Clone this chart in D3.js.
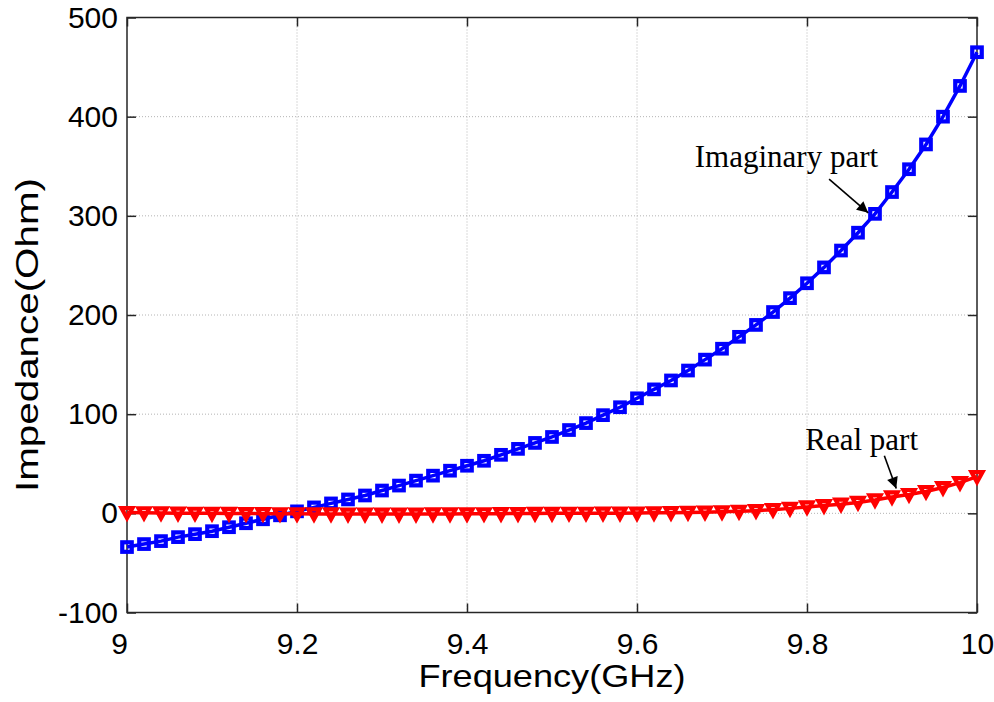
<!DOCTYPE html>
<html>
<head>
<meta charset="utf-8">
<script src="https://cdn.jsdelivr.net/npm/d3@7"></script>
<style>
  body { margin: 0; background: #fff; }
  text { font-family: "Liberation Sans", Arial, sans-serif; }
</style>
</head>
<body>
<script>
// frequency samples (GHz)
var freq = [9.00, 9.02, 9.04, 9.06, 9.08, 9.10, 9.12, 9.14, 9.16, 9.18,
            9.20, 9.22, 9.24, 9.26, 9.28, 9.30, 9.32, 9.34, 9.36, 9.38,
            9.40, 9.42, 9.44, 9.46, 9.48, 9.50, 9.52, 9.54, 9.56, 9.58,
            9.60, 9.62, 9.64, 9.66, 9.68, 9.70, 9.72, 9.74, 9.76, 9.78,
            9.80, 9.82, 9.84, 9.86, 9.88, 9.90, 9.92, 9.94, 9.96, 9.98, 10.00];

// imaginary part (Ohm)
var imag_part = [-34, -31, -28, -24, -21, -18, -14, -10, -6, -2,
                 2, 6, 10, 14, 18, 23, 28, 33, 38, 43,
                 48, 53, 59, 65, 71, 77, 84, 91, 99, 107,
                 116, 125, 134, 144, 155, 166, 178, 190, 203, 217,
                 232, 248, 265, 283, 302, 324, 347, 372, 400, 431, 465];

// real part (Ohm)
var real_part = [0.8, 0.6, 0.4, 0.2, 0.1, 0, -0.1, -0.2, -0.3, -0.4,
                 -0.5, -0.6, -0.6, -0.7, -0.7, -0.7, -0.7, -0.7, -0.6, -0.6,
                 -0.5, -0.4, -0.3, -0.2, -0.1, 0, 0.1, 0.1, 0.2, 0.2,
                 0.3, 0.5, 0.7, 0.9, 1.2, 1.5, 2.0, 2.7, 3.7, 5.0,
                 6.5, 7.8, 9.2, 11, 13.5, 16.5, 19, 22, 26, 31, 37];

var x_ticks = [9, 9.2, 9.4, 9.6, 9.8, 10];
var y_ticks = [-100, 0, 100, 200, 300, 400, 500];

// text annotations with arrows, in data coordinates
var notes = [
  {label: 'Imaginary part', tx: 9.668, ty: 349, x1: 9.826, y1: 337, x2: 9.872, y2: 303},
  {label: 'Real part',      tx: 9.798, ty: 63.5, x1: 9.891, y1: 58, x2: 9.905, y2: 25}
];

var x_scale, y_scale;

function plot_it()  {
  var width = 994, height = 702;
  var left = 127, right = 977, top = 17.5, bottom = 612.5;

  var svg = d3.select('body').append('svg').attr('width', width).attr('height', height);

  x_scale = d3.scaleLinear().domain([9, 10]).range([left, right]);
  y_scale = d3.scaleLinear().domain([-100, 500]).range([bottom, top]);

  // dotted grid
  var grid = svg.append('g');
  grid.selectAll('.gx').data(x_ticks.slice(1, -1)).enter().append('line')
    .attr('x1', d => x_scale(d)).attr('x2', d => x_scale(d))
    .attr('y1', top).attr('y2', bottom)
    .attr('stroke', '#b4b4b4').attr('stroke-width', 1).attr('stroke-dasharray', '1,2');
  grid.selectAll('.gy').data(y_ticks.slice(1, -1)).enter().append('line')
    .attr('y1', d => y_scale(d)).attr('y2', d => y_scale(d))
    .attr('x1', left).attr('x2', right)
    .attr('stroke', '#b4b4b4').attr('stroke-width', 1).attr('stroke-dasharray', '1,2');

  // axes with inward ticks on all four sides
  var tick_len = 9;
  var ax_b = svg.append('g').attr('transform', 'translate(0,' + bottom + ')')
    .call(d3.axisBottom(x_scale).tickValues(x_ticks).tickFormat(d => String(d)).tickSizeInner(-tick_len).tickSizeOuter(0).tickPadding(20));
  var ax_t = svg.append('g').attr('transform', 'translate(0,' + top + ')')
    .call(d3.axisTop(x_scale).tickValues(x_ticks).tickFormat('').tickSizeInner(-tick_len).tickSizeOuter(0));
  var ax_l = svg.append('g').attr('transform', 'translate(' + left + ',0)')
    .call(d3.axisLeft(y_scale).tickValues(y_ticks).tickFormat(d => String(d)).tickSizeInner(-tick_len).tickSizeOuter(0).tickPadding(9));
  var ax_r = svg.append('g').attr('transform', 'translate(' + right + ',0)')
    .call(d3.axisRight(y_scale).tickValues(y_ticks).tickFormat('').tickSizeInner(-tick_len).tickSizeOuter(0));

  [ax_b, ax_t, ax_l, ax_r].forEach(function(a)  {
    a.select('.domain').remove();
    a.selectAll('line').attr('stroke', '#262626').attr('stroke-width', 1.5);
    a.selectAll('text').attr('fill', '#000').style('font-size', '30px')
      .style('font-family', '"Liberation Sans", Arial, sans-serif');
  });
  ax_b.selectAll('text').attr('dy', '0.71em');
  ax_b.selectAll('text').filter(d => d == 9).attr('dx', -8);

  // box
  svg.append('rect').attr('x', left).attr('y', top)
    .attr('width', right - left).attr('height', bottom - top)
    .attr('fill', 'none').attr('stroke', '#262626').attr('stroke-width', 1.5);

  // series
  var imag_data = freq.map((f, i) => ({f: f, v: imag_part[i]}));
  var real_data = freq.map((f, i) => ({f: f, v: real_part[i]}));
  var line = d3.line().x(d => x_scale(d.f)).y(d => y_scale(d.v));

  var plot = svg.append('g').attr('class', 'linechart');

  plot.append('path').datum(imag_data).attr('d', line)
    .attr('fill', 'none').attr('stroke', '#0000ff').attr('stroke-width', 3.5);
  plot.selectAll('.sq').data(imag_data).enter().append('rect')
    .attr('x', d => x_scale(d.f) - 4.75).attr('y', d => y_scale(d.v) - 4.75)
    .attr('width', 9.5).attr('height', 9.5)
    .attr('fill', 'none').attr('stroke', '#0000ff').attr('stroke-width', 4.2);

  plot.append('path').datum(real_data).attr('d', line)
    .attr('fill', 'none').attr('stroke', '#ff0000').attr('stroke-width', 3.5);
  var tri = 'M-5.5,-4.5L5.5,-4.5L0,5.5Z';
  plot.selectAll('.tri').data(real_data).enter().append('path')
    .attr('d', tri)
    .attr('transform', d => 'translate(' + x_scale(d.f) + ',' + y_scale(d.v) + ')')
    .attr('fill', 'none').attr('stroke', '#ff0000').attr('stroke-width', 4.2)
    .attr('stroke-linejoin', 'miter');

  // annotations
  svg.append('defs').append('marker').attr('id', 'head')
    .attr('viewBox', '0 0 10 10').attr('refX', 10).attr('refY', 5)
    .attr('markerWidth', 8).attr('markerHeight', 7).attr('markerUnits', 'strokeWidth')
    .attr('orient', 'auto')
    .append('path').attr('d', 'M0,0L10,5L0,10Z').attr('fill', '#000');

  var ann = svg.append('g');
  ann.selectAll('text').data(notes).enter().append('text')
    .attr('x', d => x_scale(d.tx)).attr('y', d => y_scale(d.ty))
    .style('font-family', '"Liberation Serif", "Times New Roman", serif')
    .style('font-size', '31px').attr('fill', '#000')
    .text(d => d.label);
  ann.selectAll('line').data(notes).enter().append('line')
    .attr('x1', d => x_scale(d.x1)).attr('y1', d => y_scale(d.y1))
    .attr('x2', d => x_scale(d.x2)).attr('y2', d => y_scale(d.y2))
    .attr('stroke', '#000').attr('stroke-width', 1.6)
    .attr('marker-end', 'url(#head)');

  // axis titles
  svg.append('text').attr('x', (left + right) / 2).attr('y', 687)
    .attr('text-anchor', 'middle').style('font-size', '32px')
    .attr('textLength', 267).attr('lengthAdjust', 'spacingAndGlyphs')
    .text('Frequency(GHz)');
  svg.append('text').attr('transform', 'translate(38,335) rotate(-90)')
    .attr('text-anchor', 'middle').style('font-size', '32px')
    .attr('textLength', 314).attr('lengthAdjust', 'spacingAndGlyphs')
    .text('Impedance(Ohm)');
}

plot_it();
</script>
</body>
</html>
